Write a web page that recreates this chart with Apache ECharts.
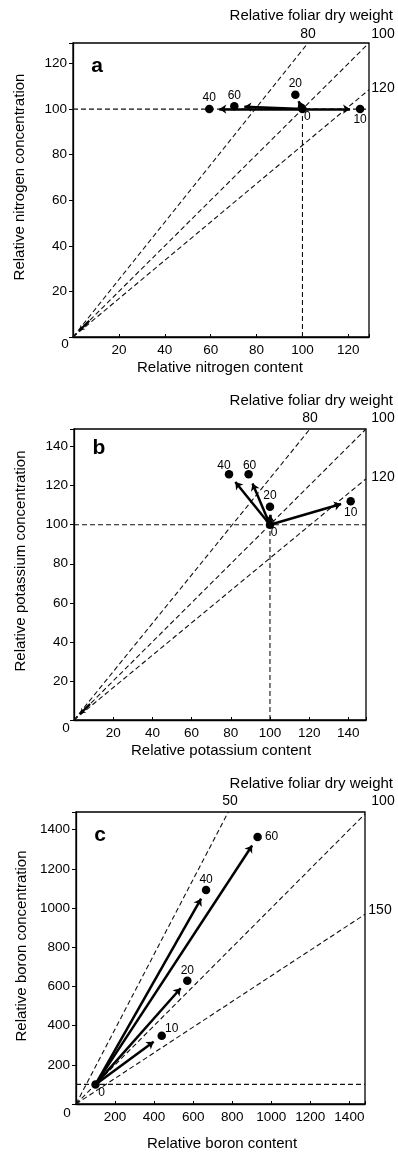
<!DOCTYPE html>
<html><head><meta charset="utf-8">
<script src="https://cdn.jsdelivr.net/npm/echarts@6/dist/echarts.min.js"></script>
<style>html,body{margin:0;padding:0;background:#fff}#c{width:398px;height:1154px}</style>
</head><body><div id="c"></div>
<script>
// ---------- Panel a : nitrogen ----------
const aPointLabels = ['0', '10', '20', '40', '60'];
const aContent = [100, 125.1, 96.9, 59.4, 70.3];
const aConc = [100, 100, 106.3, 100, 101.2];
const aIsoLabels = ['80', '100', '120'];
const aIsoEndContent = [102.4, 129, 129];
const aIsoEndConc = [129, 129, 108.5];
const aAxisMax = 129;
const aTickStep = 20;

// ---------- Panel b : potassium ----------
const bPointLabels = ['0', '10', '20', '40', '60'];
const bContent = [100, 141.2, 100, 79.1, 89.1];
const bConc = [100, 112, 109.2, 125.8, 125.8];
const bIsoLabels = ['80', '100', '120'];
const bIsoEndContent = [120.4, 149, 149];
const bIsoEndConc = [149, 149, 123.5];
const bAxisMax = 149;
const bTickStep = 20;

// ---------- Panel c : boron ----------
const cPointLabels = ['0', '10', '20', '40', '60'];
const cContent = [100, 439, 570, 666, 930];
const cConc = [100, 348, 629, 1092, 1362];
const cIsoLabels = ['50', '100', '150'];
const cIsoEndContent = [780, 1480, 1480];
const cIsoEndConc = [1490, 1480, 968];
const cAxisMaxX = 1480;
const cAxisMaxY = 1490;
const cTickStep = 200;

const FONT = '"Liberation Sans", Arial, Helvetica, sans-serif';

const panels = [
  { letter: 'a', labels: aPointLabels, xs: aContent, ys: aConc, isoX: aIsoEndContent, isoY: aIsoEndConc,
    isoLabels: aIsoLabels, maxX: aAxisMax, maxY: aAxisMax, step: aTickStep, vertical: true, originArrow: true,
    grid: { left: 73, top: 43, width: 296, height: 294 },
    xName: 'Relative nitrogen content', yName: 'Relative nitrogen concentration',
    offsets: [[5, 8], [0, 11], [0, -11], [0, -11], [0, -11]],
    pos: { title: [393, 16], iso: [[308, 34], [383, 34], [383, 88]], letter: [97, 66], yT: [20, 177], xT: [220, 368], zero: [65, 344] } },
  { letter: 'b', labels: bPointLabels, xs: bContent, ys: bConc, isoX: bIsoEndContent, isoY: bIsoEndConc,
    isoLabels: bIsoLabels, maxX: bAxisMax, maxY: bAxisMax, step: bTickStep, vertical: true, originArrow: true,
    grid: { left: 74, top: 429, width: 292, height: 291 },
    xName: 'Relative potassium content', yName: 'Relative potassium concentration',
    offsets: [[4, 8], [0, 11], [0, -11], [-5, -9], [1, -9]],
    pos: { title: [393, 401], iso: [[310, 418], [383, 418], [383, 477]], letter: [99, 448], yT: [21, 561], xT: [221, 751], zero: [66, 728] } },
  { letter: 'c', labels: cPointLabels, xs: cContent, ys: cConc, isoX: cIsoEndContent, isoY: cIsoEndConc,
    isoLabels: cIsoLabels, maxX: cAxisMaxX, maxY: cAxisMaxY, step: cTickStep, vertical: false, originArrow: false,
    grid: { left: 76, top: 812, width: 289, height: 292 },
    xName: 'Relative boron content', yName: 'Relative boron concentration',
    offsets: [[6, 8], [10, -7], [0, -10], [0, -10], [14, 0]],
    pos: { title: [393, 784], iso: [[230, 801], [383, 801], [380, 910]], letter: [100, 835], yT: [22, 946], xT: [222, 1144], zero: [67, 1113] } }
];

const grids = [], xAxes = [], yAxes = [], series = [], graphics = [];
const dash = { type: [5, 3], color: '#111', width: 1.1 };

panels.forEach((p, k) => {
  grids.push(Object.assign({ show: true, borderColor: '#000', borderWidth: 1.3, backgroundColor: 'transparent' }, p.grid));
  const fmt = v => (v !== 0 && v % p.step === 0) ? String(v) : '';
  xAxes.push({ type: 'value', gridIndex: k, min: 0, max: p.maxX, interval: p.step,
    axisLine: { show: true, lineStyle: { color: '#000', width: 1.3 } },
    axisTick: { show: true, inside: true, length: 3, lineStyle: { color: '#000' } },
    axisLabel: { formatter: fmt, color: '#000', fontSize: 13.5, fontFamily: FONT, margin: 6 },
    splitLine: { show: false } });
  yAxes.push({ type: 'value', gridIndex: k, min: 0, max: p.maxY, interval: p.step,
    axisLine: { show: true, lineStyle: { color: '#000', width: 1.3 } },
    axisTick: { show: true, inside: false, length: 4, lineStyle: { color: '#000' } },
    axisLabel: { formatter: fmt, color: '#000', fontSize: 13.5, fontFamily: FONT, margin: 6 },
    splitLine: { show: false } });

  const base = { xAxisIndex: k, yAxisIndex: k, silent: true, animation: false };
  // iso lines of relative dry weight
  p.isoX.forEach((ex, i) => {
    series.push(Object.assign({ type: 'line', data: [[0, 0], [ex, p.isoY[i]]], symbol: 'none', lineStyle: dash, z: 2 }, base));
  });
  // reference lines at 100
  series.push(Object.assign({ type: 'line', data: [[0, 100], [p.maxX, 100]], symbol: 'none', lineStyle: dash, z: 2 }, base));
  if (p.vertical) series.push(Object.assign({ type: 'line', data: [[100, 0], [100, 100]], symbol: 'none', lineStyle: dash, z: 2 }, base));

  // arrows from the control (label '0') to each treatment
  const sx = p.grid.width / p.maxX, sy = p.grid.height / p.maxY;
  const x0 = p.xs[0], y0 = p.ys[0];
  const arrows = [];
  for (let i = 1; i < p.xs.length; i++) {
    const dx = (p.xs[i] - x0) * sx, dy = (p.ys[i] - y0) * sy;
    const len = Math.sqrt(dx * dx + dy * dy);
    const gap = Math.min(10, len * 0.45);
    const f = Math.max(0, 1 - gap / len);
    arrows.push({ coords: [[x0, y0], [x0 + (p.xs[i] - x0) * f, y0 + (p.ys[i] - y0) * f]] });
  }
  series.push(Object.assign({ type: 'lines', coordinateSystem: 'cartesian2d', data: arrows,
    symbol: ['none', 'arrow'], symbolSize: 7, lineStyle: { color: '#000', width: 2.5, opacity: 1, curveness: 0 }, z: 4 }, base));
  if (p.originArrow) {
    series.push(Object.assign({ type: 'lines', coordinateSystem: 'cartesian2d',
      data: [{ coords: [[p.maxX * 0.055, p.maxY * 0.055], [p.maxX * 0.022, p.maxY * 0.022]] }],
      symbol: ['none', 'arrow'], symbolSize: 5, lineStyle: { color: '#000', width: 2.2, opacity: 1 }, z: 4 }, base));
  }
  // points
  series.push(Object.assign({ type: 'scatter', symbol: 'circle', symbolSize: 8.5, itemStyle: { color: '#000', opacity: 1 }, z: 5,
    data: p.xs.map((x, i) => ({ value: [x, p.ys[i]], label: { offset: p.offsets[i] } })),
    label: { show: true, position: 'inside', formatter: d => p.labels[d.dataIndex], color: '#000', opacity: 1, fontSize: 12, fontFamily: FONT } }, base));

  // texts
  const P = p.pos;
  const txt = (text, xy, font, align) => graphics.push({ type: 'text', x: xy[0], y: xy[1], silent: true,
    style: { text, fill: '#000', font, textAlign: align || 'center', textVerticalAlign: 'middle' } });
  txt('Relative foliar dry weight', P.title, '15px ' + FONT, 'right');
  p.isoLabels.forEach((l, i) => txt(l, P.iso[i], '14px ' + FONT));
  txt(p.letter, P.letter, 'bold 21px ' + FONT);
  txt(p.xName, P.xT, '15px ' + FONT);
  graphics.push({ type: 'text', x: P.yT[0], y: P.yT[1], rotation: Math.PI / 2, silent: true,
    style: { text: p.yName, fill: '#000', font: '15px ' + FONT, textAlign: 'center', textVerticalAlign: 'middle' } });
  txt('0', P.zero, '13.5px ' + FONT);
});

const chart = echarts.init(document.getElementById('c'));
chart.setOption({
  animation: false,
  backgroundColor: '#fff',
  grid: grids, xAxis: xAxes, yAxis: yAxes, series: series, graphic: graphics
});
</script></body></html>
